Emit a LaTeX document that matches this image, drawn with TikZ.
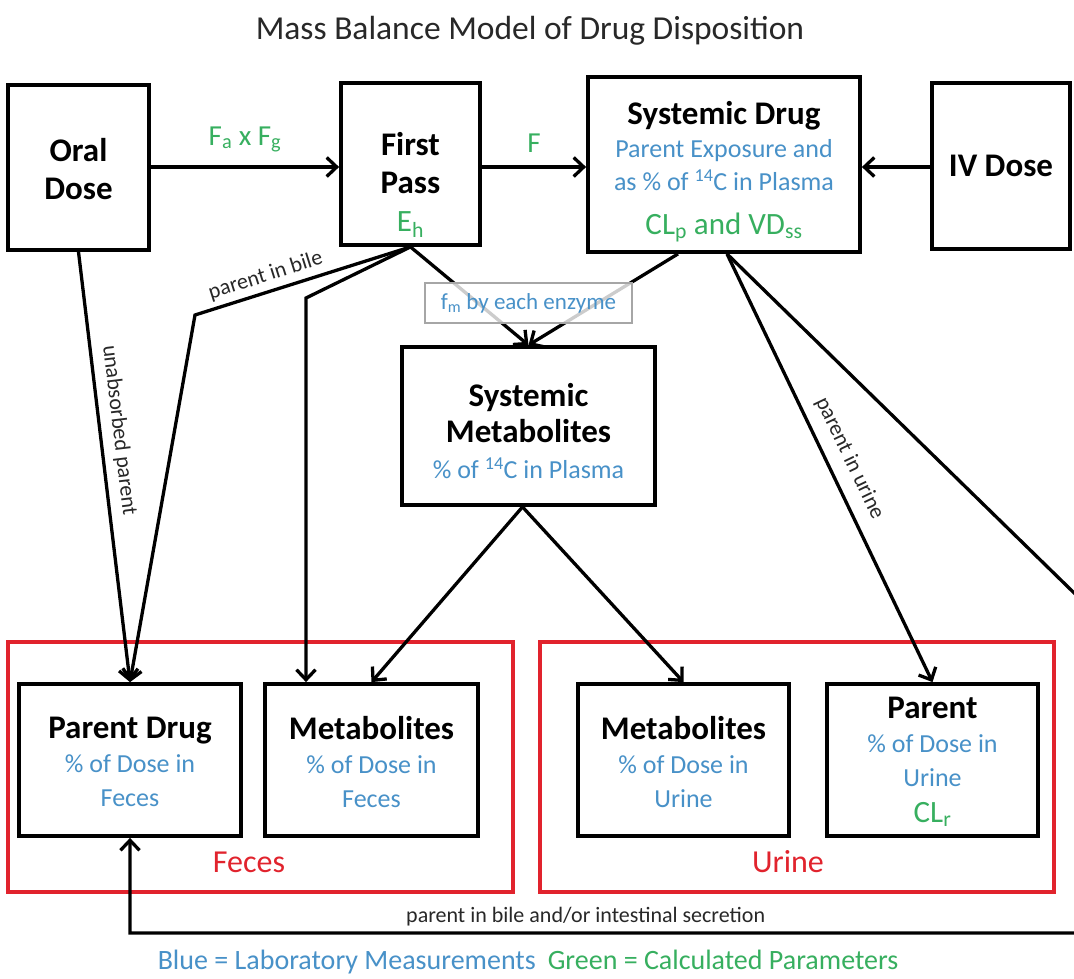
\documentclass[tikz,border=0pt]{standalone}
\usepackage{fontspec}
\setmainfont{Carlito}
\usepackage{xcolor}
\usetikzlibrary{positioning,arrows.meta}

\definecolor{labblue}{RGB}{72,145,200}
\definecolor{calcgreen}{RGB}{55,175,95}
\definecolor{poolred}{RGB}{225,35,45}
\definecolor{inktext}{RGB}{40,40,40}

\newcommand{\boxhead}[1]{{\fontsize{33}{34}\selectfont\bfseries #1}}
\newcommand{\labtxt}[1]{{\color{labblue}\fontsize{26}{34}\selectfont #1}}
\newcommand{\calctxt}[1]{{\color{calcgreen}\fontsize{31}{34}\selectfont #1}}

\tikzset{
  stagebox/.style={draw, line width=3.8pt, inner sep=0pt},
  stagetext/.style={align=center, inner sep=0pt, font=\fontsize{26}{34}\selectfont},
  poolbox/.style={draw=poolred, line width=3.2pt, inner sep=0pt},
  poollabel/.style={text=poolred, inner sep=0pt, font=\fontsize{32}{36}\selectfont},
  flow/.style={line width=3.3pt, -{Straight Barb[length=10pt, width=19pt]}},
  flowlabel/.style={text=calcgreen, inner sep=0pt, font=\fontsize{29}{32}\selectfont},
  pathlabel/.style={text=inktext, inner sep=0pt, font=\fontsize{22}{26}\selectfont},
}

\begin{document}
\begin{tikzpicture}[x=1pt, y=-1pt]

% Fix the frame to the reference size
\useasboundingbox (0,0) rectangle (1074,978);
\clip (0,0) rectangle (1074,978);
\fill[white] (0,0) rectangle (1074,978);

% Title
\node[font=\fontsize{33.5}{38}\selectfont, text=inktext] (title) at (530,31) {Mass Balance Model of Drug Disposition};

% Red collection pools
\node[poolbox, minimum width=505pt, minimum height=250pt] (fecespool) at (260.5,767) {};
\node[poolbox, minimum width=514pt, minimum height=250pt] (urinepool) at (797,767) {};
\node[poollabel] (feceslabel) at (249,862) {Feces};
\node[poollabel] (urinelabel) at (788,862) {Urine};

% Compartment boxes
\node[stagebox, minimum width=141pt, minimum height=165pt] (oral) at (78.5,167.5) {};
\node[stagebox, minimum width=139pt, minimum height=162pt] (first) at (410.5,164) {};
\node[stagebox, minimum width=272pt, minimum height=175pt] (sysdrug) at (724,164.5) {};
\node[stagebox, minimum width=138pt, minimum height=166pt] (ivdose) at (1001,166) {};
\node[stagebox, minimum width=253pt, minimum height=158pt] (sysmet) at (528.5,426) {};
\node[stagebox, minimum width=222pt, minimum height=152pt] (parfeces) at (130,760) {};
\node[stagebox, minimum width=213pt, minimum height=152pt] (metfeces) at (371.5,760) {};
\node[stagebox, minimum width=211pt, minimum height=152pt] (meturine) at (683.5,760) {};
\node[stagebox, minimum width=211pt, minimum height=152pt] (parurine) at (932.5,760) {};

% Box texts
\node[stagetext, font=\fontsize{33}{38.5}\selectfont\bfseries] (oraltext) at (78.5,169) {Oral\\Dose};
\node[stagetext] (firsttext) at (410.5,185) {\boxhead{First}\\[4.5pt]\boxhead{Pass}\\[3.5pt]\calctxt{E\textsubscript{h}}};
\node[stagetext, font=\fontsize{26}{33}\selectfont] (sysdrugtext) at (724,172) {\boxhead{Systemic Drug}\\\labtxt{Parent Exposure and}\\\labtxt{as \% of \textsuperscript{14}C in Plasma}\\[11pt]\calctxt{CL\textsubscript{p} and VD\textsubscript{ss}}};
\node[stagetext, font=\fontsize{33}{38}\selectfont\bfseries] (ivtext) at (1001,166) {IV Dose};
\node[stagetext, font=\fontsize{26}{36}\selectfont] (sysmettext) at (528.5,431) {\boxhead{Systemic}\\\boxhead{Metabolites}\\\labtxt{\% of \textsuperscript{14}C in Plasma}};
\node[stagetext] (parfecestext) at (130,762) {\boxhead{Parent Drug}\\\labtxt{\% of Dose in}\\\labtxt{Feces}};
\node[stagetext] (metfecestext) at (371.5,762) {\boxhead{Metabolites}\\\labtxt{\% of Dose in}\\\labtxt{Feces}};
\node[stagetext] (meturinetext) at (683.5,762) {\boxhead{Metabolites}\\\labtxt{\% of Dose in}\\\labtxt{Urine}};
\node[stagetext] (parurinetext) at (932.5,762) {\boxhead{Parent}\\\labtxt{\% of Dose in}\\\labtxt{Urine}\\[2pt]\calctxt{CL\textsubscript{r}}};

% Dose inputs
\coordinate (inlet) at (0,167);
\draw[flow] (oral.east |- inlet) -- (first.west |- inlet) node[flowlabel, midway, above=13pt] {F\textsubscript{a} x F\textsubscript{g}};
\draw[flow] (first.east |- inlet) -- (sysdrug.west |- inlet) node[flowlabel, midway, above=13pt] {F};
\draw[flow] (ivdose.west |- inlet) -- (sysdrug.east |- inlet);

% Unabsorbed and first pass routes
\coordinate (bilebend) at (195,315);
\coordinate (metbend) at (306,298);
\draw[flow] (oral.south) -- node[pathlabel, sloped, above=8pt, pos=0.42] {unabsorbed parent} (parfeces.north);
\draw[flow] (first.south) -- node[pathlabel, sloped, above=5pt, pos=0.65] {parent in bile} (bilebend) -- (parfeces.north);
\draw[flow] (first.south) -- (metbend) -- (metbend |- metfeces.north);
\draw[flow] (first.south) -- (sysmet.north);
\draw[flow] ([xshift=-46pt]sysdrug.south) -- (sysmet.north);

% Excretion routes
\draw[flow] ([xshift=3pt]sysdrug.south) -- node[pathlabel, sloped, above=11pt, pos=0.5] {parent in urine} (parurine.north);
\draw[flow] ([xshift=-6pt]sysmet.south) -- (metfeces.north);
\draw[flow] ([xshift=-6pt]sysmet.south) -- (meturine.north);

% Secretion loop leaving the frame on the right
\coordinate (loopout) at (1110,628);
\coordinate (loopback) at (1110,933);
\draw[flow] ([xshift=3pt]sysdrug.south) -- (loopout) -- (loopback) -- node[pathlabel, above=5pt, pos=0.535] {parent in bile and/or intestinal secretion} (loopback -| parfeces.south) -- (parfeces.south);

% Enzyme fraction tag over the metabolite arrows
\node[draw=gray!70, line width=1.5pt, fill=white, fill opacity=0.8, text opacity=1, text=labblue, minimum width=207pt, minimum height=40pt, inner sep=0pt, font=\fontsize{23}{26}\selectfont] (fmtag) at (528.5,303) {f\textsubscript{m} by each enzyme};

% Legend
\node[font=\fontsize{28}{32}\selectfont, inner sep=0pt] (legend) at (528,962) {\textcolor{labblue}{Blue = Laboratory Measurements}\hspace{12pt}\textcolor{calcgreen}{Green = Calculated Parameters}};

\end{tikzpicture}
\end{document}
